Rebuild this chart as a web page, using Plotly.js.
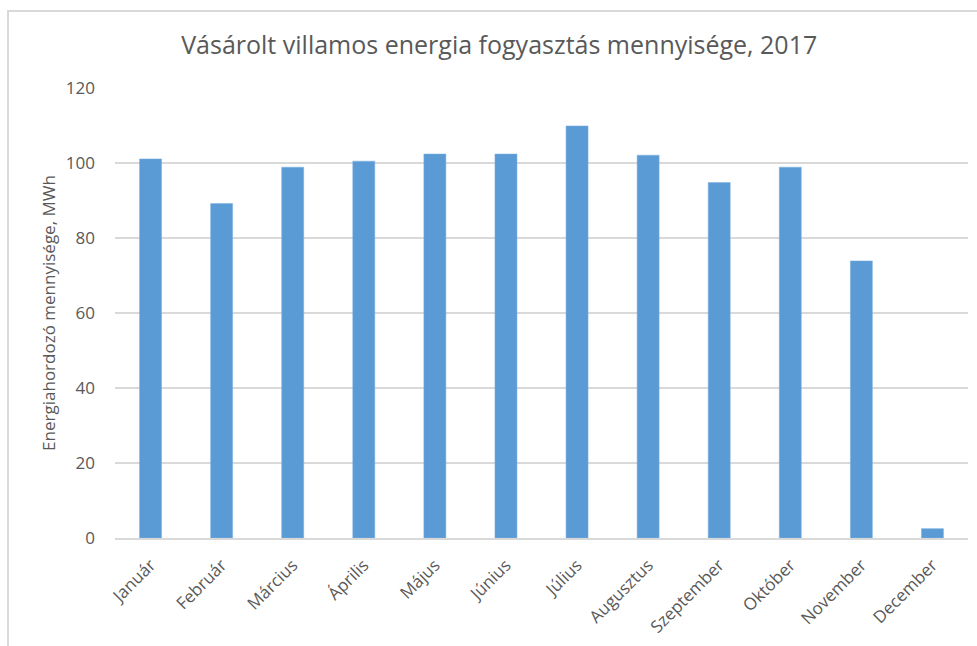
<!DOCTYPE html>
<html>
<head>
<meta charset="utf-8">
<script src="https://cdn.plot.ly/plotly-3.0.1.min.js"></script>
<style>
  html, body { margin: 0; padding: 0; background: #ffffff; }
  #wrap { position: relative; width: 977px; height: 646px; overflow: hidden; }
  #chart { position: absolute; left: 0; top: 0; width: 977px; height: 646px; }
  #frame { position: absolute; left: 7px; top: 10px; width: 1000px; height: 700px;
           border-left: 2px solid #d9d9d9; border-top: 2px solid #d9d9d9; pointer-events: none; }
</style>
</head>
<body>
<div id="wrap">
  <div id="chart"></div>
  <div id="frame"></div>
</div>
<script>
const months = ["Január", "Február", "Március", "Április", "Május", "Június",
                "Július", "Augusztus", "Szeptember", "Október", "November", "December"];
const consumption = [101.1, 89.2, 98.9, 100.5, 102.4, 102.4, 109.9, 102.1, 94.8, 98.9, 73.9, 2.5];
const yTicks = [0, 20, 40, 60, 80, 100, 120];

const fontFamily = "'Open Sans', 'Noto Sans', sans-serif";
const textColor = "#595959";

const trace = {
  type: "bar",
  x: months,
  y: consumption,
  marker: { color: "#5b9bd5", line: { color: "#7fb1e0", width: 0.5 } },
  hoverinfo: "x+y"
};

const layout = {
  width: 977,
  height: 646,
  paper_bgcolor: "rgba(0,0,0,0)",
  plot_bgcolor: "#ffffff",
  margin: { l: 115, r: 9, t: 88, b: 108 },
  showlegend: false,
  bargap: 0.69,
  title: {
    text: "Vásárolt villamos energia fogyasztás mennyisége, 2017",
    font: { family: fontFamily, size: 25, color: textColor },
    x: 0.511, xanchor: "center",
    y: 0.93, yanchor: "middle"
  },
  xaxis: {
    type: "category",
    tickangle: -45,
    tickfont: { family: fontFamily, size: 17, color: textColor },
    showgrid: false,
    showline: true,
    linecolor: "#d9d9d9",
    linewidth: 1.5,
    ticks: "",
    ticklabelstandoff: 9
  },
  yaxis: {
    range: [0, 120],
    tickvals: yTicks,
    ticktext: yTicks.map(String),
    tickfont: { family: fontFamily, size: 17, color: textColor },
    showgrid: true,
    gridcolor: "#d9d9d9",
    gridwidth: 1.5,
    zeroline: false,
    showline: false,
    ticks: "",
    ticklabelstandoff: 19,
    title: {
      text: "Energiahordozó mennyisége, MWh",
      font: { family: fontFamily, size: 17, color: textColor },
      standoff: 5
    }
  }
};

Plotly.newPlot("chart", [trace], layout, { displayModeBar: false, staticPlot: true });
</script>
</body>
</html>
